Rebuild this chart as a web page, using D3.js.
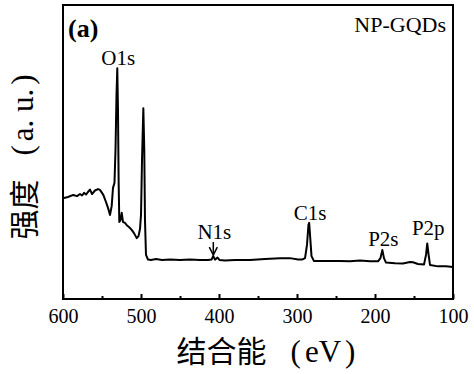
<!DOCTYPE html>
<html>
<head>
<meta charset="utf-8">
<script src="https://cdn.jsdelivr.net/npm/d3@7"></script>
<style>
  body { margin: 0; background: #fff; }
  svg { display: block; }
</style>
</head>
<body>
<svg class="xps" width="474" height="374"></svg>
<script>
// binding energy (eV) and intensity (a.u.)
var energy = [600, 593.6, 586.8, 582, 578.2, 575.6, 573, 570.5, 568, 565.4, 562.8, 559, 555.1, 552.6, 548.3, 544.9, 542.3, 539.7, 537.6, 535.9, 534, 532.7, 531.4, 530.4, 529.5, 528.7, 527.8, 526.3, 524.7, 523.1, 520.5, 517.9, 515.4, 511.9, 509, 505.5, 503.2, 501.3, 500, 498.7, 497, 495.8, 494.9, 493.6, 491, 487.2, 480.8, 473, 462.8, 450, 437.2, 424.4, 414.1, 409.6, 407.3, 405.1, 401.9, 399.4, 392.3, 379.5, 360.3, 341, 321.8, 309, 298.7, 293.6, 289.7, 287.2, 285.3, 284.4, 283.3, 281.4, 278.2, 270.5, 257.7, 244.9, 232.1, 219.2, 206.4, 196.2, 193, 190.6, 188.5, 185.9, 174.4, 164.1, 155.1, 151.3, 144.9, 137.2, 134.6, 133, 131.4, 129.5, 119.2, 109, 100];
var intensity = [34.3, 34.7, 35.4, 35.0, 35.7, 35.2, 36.1, 35.5, 36.4, 37.2, 35.7, 36.9, 37.4, 37.1, 35.4, 33.0, 31.0, 28.6, 31.6, 37.8, 39.5, 50.7, 69.4, 78.5, 64.0, 40.5, 26.2, 26.9, 29.3, 26.2, 25.9, 25.0, 24.5, 23.5, 22.4, 20.7, 21.4, 23.8, 28.6, 47.3, 64.9, 50.7, 26.9, 15.0, 13.4, 13.3, 13.6, 13.3, 13.4, 13.3, 13.4, 13.3, 13.3, 13.4, 14.6, 13.4, 14.1, 13.3, 13.1, 13.3, 13.3, 13.6, 13.9, 13.9, 13.4, 13.4, 13.9, 18.4, 25.2, 25.9, 21.8, 14.6, 12.9, 12.9, 12.9, 12.9, 12.8, 13.1, 12.8, 12.8, 13.9, 16.7, 13.9, 12.4, 12.2, 12.1, 12.6, 12.5, 11.9, 11.7, 15.0, 18.9, 15.3, 11.6, 11.1, 11.1, 10.9];

var peakNames = ["O1s", "N1s", "C1s", "P2s", "P2p"];
var peakEnergy = [530.4, 407.3, 284.4, 190.6, 133];

var xTicks = [600, 500, 400, 300, 200, 100];
var xMinorTicks = [550, 450, 350, 250, 150];

var data = energy.map(function(e, i) { return {E: e, I: intensity[i]}; });

var serif = "'Liberation Serif', serif",
  cjk = "'Noto Sans CJK SC', sans-serif";

var svg = d3.select(".xps"),
  margin = {top: 5, right: 21, bottom: 75, left: 63},
  width = +svg.attr("width") - margin.left - margin.right,
  height = +svg.attr("height") - margin.top - margin.bottom,
  main = svg.append("g").attr("transform", "translate(" + margin.left + "," + margin.top + ")");

var x = d3.scaleLinear().domain([600, 100]).range([0, width]);
var y = d3.scaleLinear().domain([0, 100]).range([height, 0]);

// frame
main.append("rect")
  .attr("width", width)
  .attr("height", height)
  .attr("fill", "none")
  .attr("stroke", "black")
  .attr("stroke-width", 2);

// bottom axis, ticks pointing inward
var xaxis = d3.axisBottom(x).tickValues(xTicks).tickSize(-5).tickPadding(10).tickFormat(d3.format("d"));
var gx = main.append("g").attr("class", "xaxis").attr("transform", "translate(0," + height + ")").call(xaxis);
gx.select(".domain").remove();
gx.selectAll("line").attr("stroke-width", 2);
gx.selectAll("text")
  .attr("font-family", serif)
  .attr("font-size", 20)
  .attr("fill", "black");

var xminor = d3.axisBottom(x).tickValues(xMinorTicks).tickSize(-3).tickFormat("");
var gm = main.append("g").attr("transform", "translate(0," + height + ")").call(xminor);
gm.select(".domain").remove();
gm.selectAll("line").attr("stroke-width", 2);

// spectrum
var line = d3.line()
  .x(function(d) { return x(d.E); })
  .y(function(d) { return y(d.I); });

main.append("path")
  .datum(data)
  .attr("fill", "none")
  .attr("stroke", "black")
  .attr("stroke-width", 2)
  .attr("stroke-linejoin", "round")
  .attr("d", line);

// peak labels
function peakTop(e) {
  var near = data.filter(function(d) { return Math.abs(d.E - e) < 3; });
  return d3.max(near, function(d) { return d.I; });
}
var labelGap = {"O1s": 3, "N1s": 17, "C1s": 3, "P2s": 4, "P2p": 8};

peakNames.forEach(function(name, i) {
  var px = x(peakEnergy[i]);
  var py = y(peakTop(peakEnergy[i])) - labelGap[name];
  main.append("text")
    .attr("x", px + 1)
    .attr("y", py)
    .attr("text-anchor", "middle")
    .attr("font-family", serif)
    .attr("font-size", 21)
    .text(name);
  if (name === "N1s") {
    var top = py + 3, tip = y(peakTop(peakEnergy[i])) - 1;
    main.append("line")
      .attr("x1", px).attr("x2", px)
      .attr("y1", top).attr("y2", tip - 2)
      .attr("stroke", "black").attr("stroke-width", 1.5);
    main.append("path")
      .attr("d", "M" + (px - 4) + "," + (tip - 8) + "L" + px + "," + tip + "L" + (px + 4) + "," + (tip - 8))
      .attr("fill", "none").attr("stroke", "black").attr("stroke-width", 1.5);
  }
});

// panel tag and sample name
main.append("text")
  .attr("x", 5).attr("y", 32)
  .attr("font-family", serif)
  .attr("font-weight", "bold")
  .attr("font-size", 26)
  .text("(a)");

main.append("text")
  .attr("x", width - 7).attr("y", 27)
  .attr("text-anchor", "end")
  .attr("font-family", serif)
  .attr("font-size", 22)
  .text("NP-GQDs");

// axis titles: Chinese part + serif unit in wide brackets
function title(t, zh, unit) {
  t.attr("text-anchor", "middle");
  t.append("tspan").attr("font-family", cjk).attr("font-size", 30).text(zh);
  t.append("tspan").attr("font-family", serif).attr("font-size", 31).attr("dx", 24).text("(");
  t.append("tspan").attr("font-family", serif).attr("font-size", 31).attr("dx", 4).text(unit);
  t.append("tspan").attr("font-family", serif).attr("font-size", 31).attr("dx", 4).text(")");
}

var xt = svg.append("text")
  .attr("x", 266)
  .attr("y", 362);
title(xt, "结合能", "eV");

var yt = svg.append("text")
  .attr("transform", "translate(22,157) rotate(-90)")
  .attr("dominant-baseline", "central");
title(yt, "强度", "a. u.");
</script>
</body>
</html>
